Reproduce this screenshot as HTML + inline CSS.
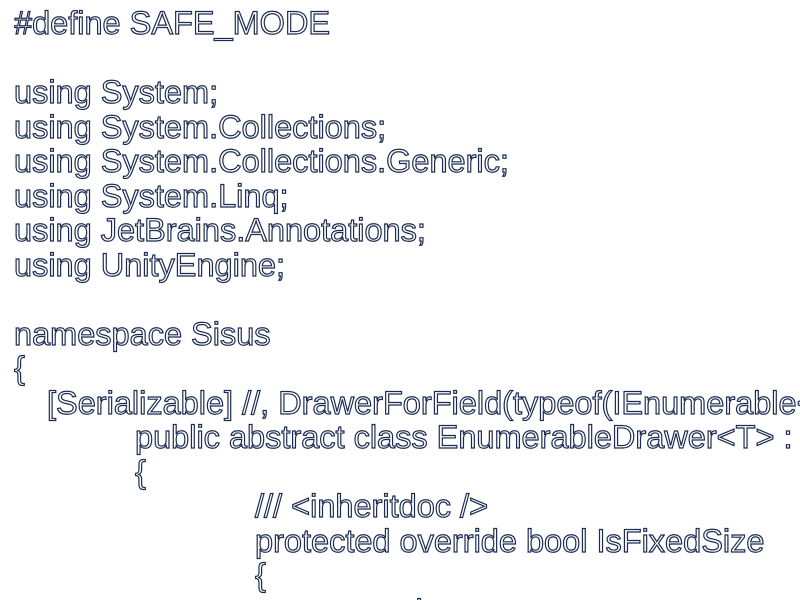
<!DOCTYPE html>
<html><head><style>
html,body{margin:0;padding:0;background:#fff;width:800px;height:600px;overflow:hidden}
.c{position:absolute;left:14px;top:6px;width:786px;height:594px;overflow:hidden;margin:0;font-family:"Liberation Sans",sans-serif;font-size:32.5px;color:#fff;-webkit-text-stroke:1.2px #1a2a50}
.c div{height:34.5px;line-height:34.5px;white-space:pre}
</style></head><body>
<div class="c">
<div>#define SAFE_MODE</div>
<div></div>
<div>using System;</div>
<div>using System.Collections;</div>
<div>using System.Collections.Generic;</div>
<div>using System.Linq;</div>
<div>using JetBrains.Annotations;</div>
<div>using UnityEngine;</div>
<div></div>
<div>namespace Sisus</div>
<div>{</div>
<div style="margin-left:33px">[Serializable] //, DrawerForField(typeof(IEnumerable&lt;&gt;), false, true)]</div>
<div style="margin-left:121px">public abstract class EnumerableDrawer&lt;T&gt; : CollectionDrawer</div>
<div style="margin-left:121px">{</div>
<div style="margin-left:241px">/// &lt;inheritdoc /&gt;</div>
<div style="margin-left:241px">protected override bool IsFixedSize</div>
<div style="margin-left:241px">{</div>
<div style="margin-left:402px">'</div>
</div>
</body></html>
